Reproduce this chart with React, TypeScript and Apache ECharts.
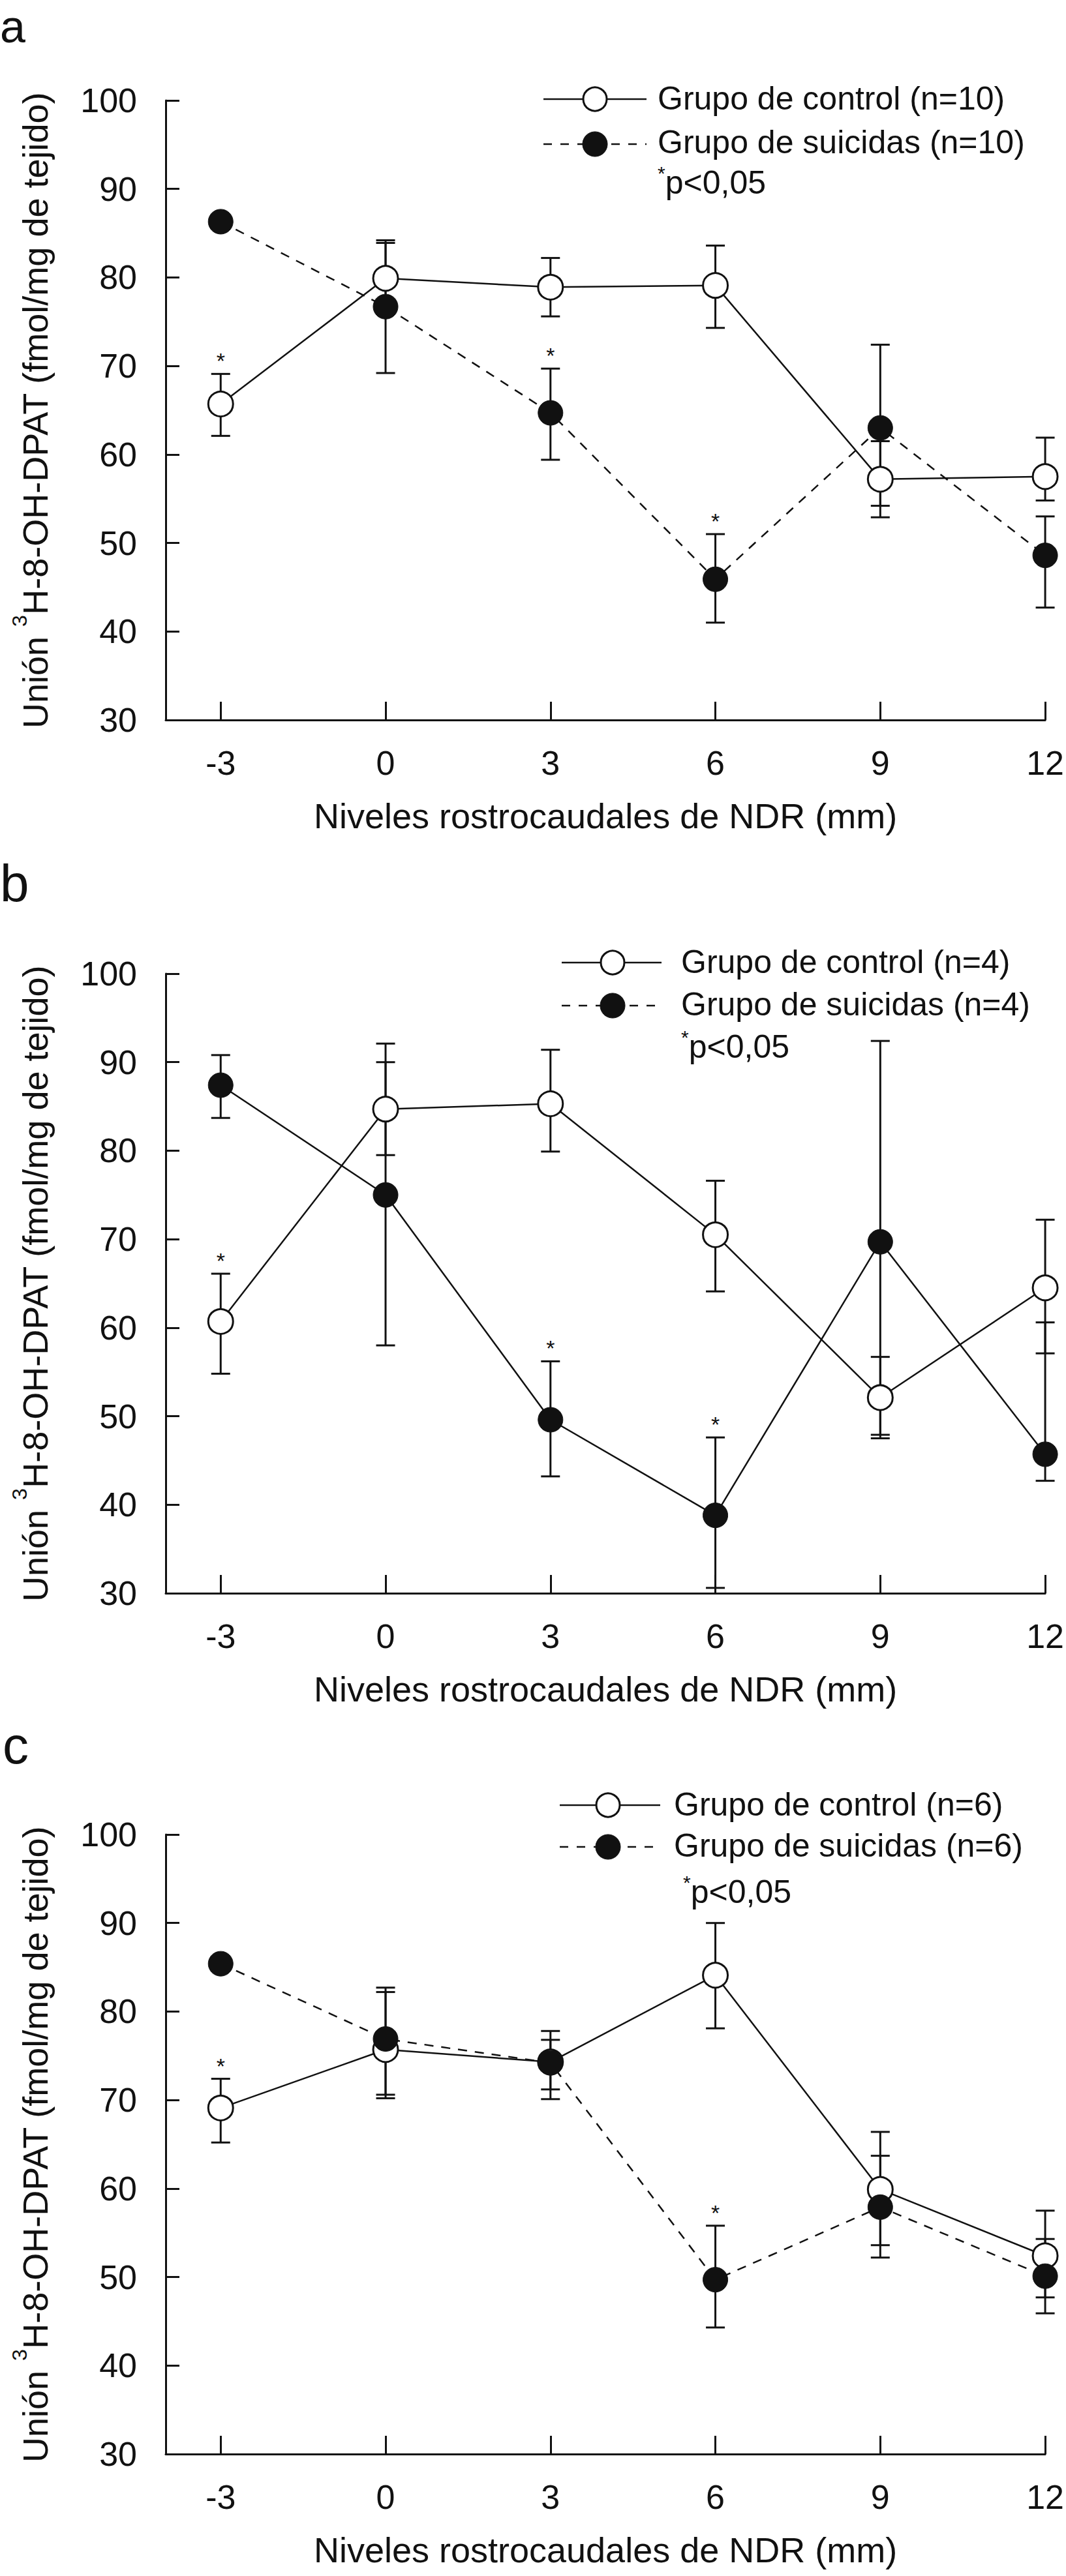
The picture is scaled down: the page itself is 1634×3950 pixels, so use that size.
import { useEffect, useRef } from "react";
import * as echarts from "echarts";

// rostrocaudal levels (mm)
const levels = [-3, 0, 3, 6, 9, 12];
const levelTicks = [-3, 0, 3, 6, 9, 12];

// panel a (n=10); errors are [below, above]
const controlA = [65.7, 79.9, 78.9, 79.1, 57.2, 57.5];
const controlErrA = [[3.6, 3.4], [4.0, 4.0], [3.3, 3.3], [4.8, 4.5], [4.3, 4.3], [2.7, 4.4]];
const suicideA = [86.3, 76.7, 64.7, 45.9, 63.0, 48.6];
const suicideErrA = [[0.8, 0.8], [7.5, 7.5], [5.3, 5.0], [4.9, 5.1], [8.8, 9.4], [5.9, 4.4]];
const sigControlA = [-3];
const sigSuicideA = [3, 6];

// panel b (n=4)
const controlB = [60.7, 84.7, 85.3, 70.5, 52.1, 64.5];
const controlErrB = [[5.9, 5.4], [5.2, 5.3], [5.4, 6.1], [6.4, 6.1], [4.6, 4.6], [7.4, 7.7]];
const suicideB = [87.4, 75.0, 49.6, 38.8, 69.7, 45.7];
const suicideErrB = [[3.7, 3.4], [17.0, 17.1], [6.4, 6.6], [8.2, 8.8], [21.8, 22.7], [3.0, 14.9]];
const sigControlB = [-3];
const sigSuicideB = [3, 6];

// panel c (n=6)
const controlC = [69.1, 75.7, 74.3, 84.1, 59.9, 52.4];
const controlErrC = [[3.9, 3.3], [5.5, 6.5], [4.2, 3.5], [6.0, 5.9], [6.3, 6.5], [4.7, 5.1]];
const suicideC = [85.4, 76.9, 74.2, 49.7, 57.9, 50.1];
const suicideErrC = [[0.8, 0.8], [6.3, 5.8], [3.0, 2.6], [5.4, 6.1], [5.7, 5.8], [4.2, 4.2]];
const sigControlC = [-3];
const sigSuicideC = [6];

const INK = "#111";
const FONT = "'Liberation Sans', Arial, sans-serif";

const panels = [
  {
    letter: "a", letterX: 0, letterY: 6, letterSize: 70, top: 154, n: 10, dashed: true,
    control: controlA, controlErr: controlErrA, suicide: suicideA, suicideErr: suicideErrA,
    sigC: sigControlA, sigS: sigSuicideA,
    legend: { x1: 833, x2: 991, mx: 912, tx: 1008, r1: 152, r2: 221, t1: 151, t2: 218, px: 1008, py: 280 },
  },
  {
    letter: "b", letterX: 0, letterY: 1314, letterSize: 80, top: 1493, n: 4, dashed: false,
    control: controlB, controlErr: controlErrB, suicide: suicideB, suicideErr: suicideErrB,
    sigC: sigControlB, sigS: sigSuicideB,
    legend: { x1: 861, x2: 1014, mx: 939, tx: 1044, r1: 1476, r2: 1542, t1: 1475, t2: 1540, px: 1044, py: 1605 },
  },
  {
    letter: "c", letterX: 4, letterY: 2636, letterSize: 80, top: 2813, n: 6, dashed: true,
    control: controlC, controlErr: controlErrC, suicide: suicideC, suicideErr: suicideErrC,
    sigC: sigControlC, sigS: sigSuicideC,
    legend: { x1: 858, x2: 1012, mx: 932, tx: 1033, r1: 2768, r2: 2832, t1: 2767, t2: 2830, px: 1047, py: 2901 },
  },
];

const GRID_LEFT = 254;
const GRID_W = 1350;
const GRID_H = 950;

function errorSeries(i: number, values: number[], err: number[][]) {
  return {
    type: "custom",
    xAxisIndex: i,
    yAxisIndex: i,
    silent: true,
    z: 1,
    data: levels.map((x, k) => [x, values[k] - err[k][0], values[k] + err[k][1]]),
    encode: { x: 0, y: [1, 2] },
    renderItem: (_params: any, api: any) => {
      const lo = api.coord([api.value(0), api.value(1)]);
      const hi = api.coord([api.value(0), api.value(2)]);
      const hw = 14.5;
      const style = { stroke: INK, lineWidth: 3 };
      return {
        type: "group",
        children: [
          { type: "line", shape: { x1: lo[0], y1: lo[1], x2: hi[0], y2: hi[1] }, style },
          { type: "line", shape: { x1: lo[0] - hw, y1: lo[1], x2: lo[0] + hw, y2: lo[1] }, style },
          { type: "line", shape: { x1: hi[0] - hw, y1: hi[1], x2: hi[0] + hw, y2: hi[1] }, style },
        ],
      };
    },
  };
}

function starSeries(i: number, values: number[], err: number[][], sig: number[]) {
  return {
    type: "custom",
    xAxisIndex: i,
    yAxisIndex: i,
    silent: true,
    z: 4,
    data: sig.map((x) => {
      const k = levels.indexOf(x);
      return [x, values[k] + err[k][1]];
    }),
    renderItem: (_params: any, api: any) => {
      const p = api.coord([api.value(0), api.value(1)]);
      return {
        type: "text",
        x: p[0],
        y: p[1] - 20,
        style: {
          text: "*",
          fontSize: 34,
          fontFamily: FONT,
          fill: INK,
          align: "center",
          verticalAlign: "middle",
        },
      };
    },
  };
}

export default function App() {
  const chartRef = useRef<HTMLDivElement>(null);

  useEffect(() => {
    document.body.style.margin = "0";
    if (!chartRef.current) return;
    const chart = echarts.init(chartRef.current, null, { renderer: "svg" });

    const grid: any[] = [];
    const xAxis: any[] = [];
    const yAxis: any[] = [];
    const series: any[] = [];
    const graphic: any[] = [];

    panels.forEach((p, i) => {
      grid.push({ left: GRID_LEFT, top: p.top, width: GRID_W, height: GRID_H, containLabel: false });

      xAxis.push({
        type: "value",
        gridIndex: i,
        min: -4,
        max: 12,
        name: "Niveles rostrocaudales de NDR (mm)",
        nameLocation: "middle",
        nameGap: 120,
        nameTextStyle: { fontSize: 54, fontFamily: FONT, color: INK },
        axisLine: { show: true, onZero: false, lineStyle: { color: INK, width: 3 } },
        axisTick: { show: true, inside: true, length: 28, customValues: levelTicks, lineStyle: { color: INK, width: 3 } },
        axisLabel: { show: true, customValues: levelTicks, margin: 40, fontSize: 52, fontFamily: FONT, color: INK },
        splitLine: { show: false },
      });

      yAxis.push({
        type: "value",
        gridIndex: i,
        min: 30,
        max: 100,
        interval: 10,
        axisLine: { show: true, onZero: false, lineStyle: { color: INK, width: 3 } },
        axisTick: { show: true, inside: true, length: 21, lineStyle: { color: INK, width: 3 } },
        axisLabel: { show: true, margin: 44, fontSize: 52, fontFamily: FONT, color: INK },
        splitLine: { show: false },
      });

      series.push(errorSeries(i, p.control, p.controlErr));
      series.push(errorSeries(i, p.suicide, p.suicideErr));
      series.push({
        type: "line",
        name: `Grupo de control (n=${p.n})`,
        xAxisIndex: i,
        yAxisIndex: i,
        z: 2,
        data: levels.map((x, k) => [x, p.control[k]]),
        symbol: "circle",
        symbolSize: 38,
        showAllSymbol: true,
        lineStyle: { color: INK, width: 2.5 },
        itemStyle: { color: "#fff", borderColor: INK, borderWidth: 3 },
        emphasis: { disabled: true },
      });
      series.push({
        type: "line",
        name: `Grupo de suicidas (n=${p.n})`,
        xAxisIndex: i,
        yAxisIndex: i,
        z: 3,
        data: levels.map((x, k) => [x, p.suicide[k]]),
        symbol: "circle",
        symbolSize: 38,
        showAllSymbol: true,
        lineStyle: { color: INK, width: 2.5, type: p.dashed ? [14, 12] : "solid" },
        itemStyle: { color: INK, borderColor: INK, borderWidth: 1 },
        emphasis: { disabled: true },
      });
      series.push(starSeries(i, p.control, p.controlErr, p.sigC));
      series.push(starSeries(i, p.suicide, p.suicideErr, p.sigS));

      // panel letter
      graphic.push({
        type: "text",
        x: p.letterX,
        y: p.letterY,
        z: 10,
        style: {
          text: p.letter,
          fontSize: p.letterSize,
          lineHeight: p.letterSize,
          fontFamily: FONT,
          fill: INK,
          align: "left",
          verticalAlign: "top",
        },
      });

      // y-axis title
      graphic.push({
        type: "text",
        x: 54,
        y: p.top + GRID_H / 2,
        rotation: Math.PI / 2,
        z: 10,
        style: {
          text: "Unión {sup|3}H-8-OH-DPAT (fmol/mg de tejido)",
          fontSize: 54,
          lineHeight: 80,
          fontFamily: FONT,
          fill: INK,
          align: "center",
          verticalAlign: "middle",
          rich: {
            sup: { fontSize: 32, lineHeight: 30, verticalAlign: "top", fontFamily: FONT, fill: INK },
          },
        },
      });

      // legend
      const L = p.legend;
      graphic.push(
        { type: "line", z: 10, shape: { x1: L.x1, y1: L.r1, x2: L.x2, y2: L.r1 }, style: { stroke: INK, lineWidth: 2.5 } },
        { type: "circle", z: 11, shape: { cx: L.mx, cy: L.r1, r: 18 }, style: { fill: "#fff", stroke: INK, lineWidth: 3 } },
        { type: "text", z: 10, x: L.tx, y: L.t1, style: { text: `Grupo de control (n=${p.n})`, fontSize: 50, fontFamily: FONT, fill: INK, align: "left", verticalAlign: "middle" } },
        { type: "line", z: 10, shape: { x1: L.x1, y1: L.r2, x2: L.x2, y2: L.r2 }, style: { stroke: INK, lineWidth: 2.5, lineDash: [13, 13] } },
        { type: "circle", z: 11, shape: { cx: L.mx, cy: L.r2, r: 19 }, style: { fill: INK, stroke: INK, lineWidth: 1 } },
        { type: "text", z: 10, x: L.tx, y: L.t2, style: { text: `Grupo de suicidas (n=${p.n})`, fontSize: 50, fontFamily: FONT, fill: INK, align: "left", verticalAlign: "middle" } },
        {
          type: "text",
          z: 10,
          x: L.px,
          y: L.py,
          style: {
            text: "{sup|*}p<0,05",
            fontSize: 50,
            lineHeight: 60,
            fontFamily: FONT,
            fill: INK,
            align: "left",
            verticalAlign: "middle",
            rich: { sup: { fontSize: 30, lineHeight: 30, verticalAlign: "top", fontFamily: FONT, fill: INK } },
          },
        }
      );
    });

    chart.setOption({
      animation: false,
      backgroundColor: "#fff",
      grid,
      xAxis,
      yAxis,
      series,
      graphic,
    });

    const handleResize = () => chart.resize();
    window.addEventListener("resize", handleResize);
    return () => {
      window.removeEventListener("resize", handleResize);
      chart.dispose();
    };
  }, []);

  return <div ref={chartRef} style={{ width: 1634, height: 3950 }} />;
}
